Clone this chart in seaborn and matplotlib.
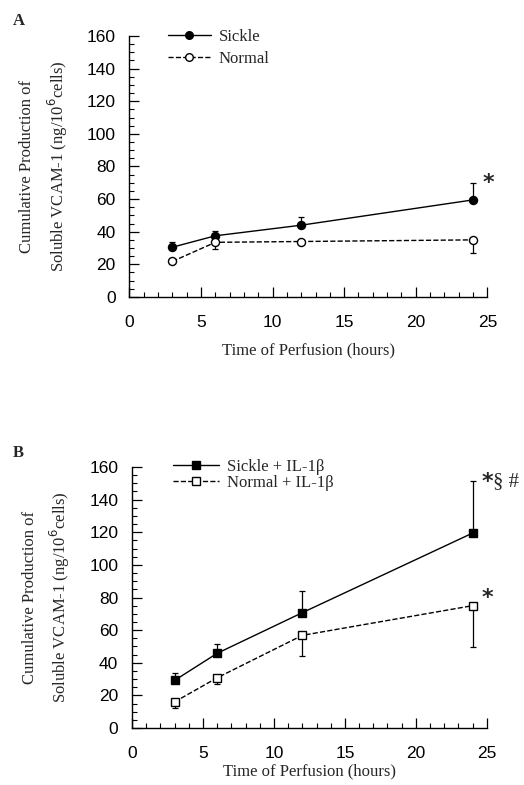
import matplotlib
matplotlib.use("Agg")
import matplotlib.pyplot as plt
import seaborn as sns
import numpy as np
import pandas as pd
from matplotlib.ticker import MultipleLocator
from matplotlib.lines import Line2D

sns.set_theme(style="ticks")
plt.rcParams['font.family'] = ['Liberation Serif', 'DejaVu Serif']

# Data
hours = [3, 6, 12, 24]
sickle = [30.5, 37.5, 44, 59.5]
sickle_err_up = [3.2, 3.2, 5.3, 10.5]
normal = [21.8, 33.5, 34, 35]
normal_err_dn = [0, 4.0, 0, 8]

sickle_il = [29.2, 45.8, 70.7, 119.5]
sickle_il_err_up = [4.8, 5.7, 13.0, 32.0]
normal_il = [16.0, 30.8, 56.8, 75.0]
normal_il_err_dn = [4.0, 4.0, 12.5, 25.2]

xticks = [0, 5, 10, 15, 20, 25]
yticks = [0, 20, 40, 60, 80, 100, 120, 140, 160]

fig = plt.figure(figsize=(5.24, 7.85), dpi=100)
axA = fig.add_axes([0.247, 0.6217, 0.683, 0.3325])
axB = fig.add_axes([0.252, 0.0726, 0.677, 0.3325])

def style_axis(ax, xlabelpad):
    ax.set_xlim(0, 25)
    ax.set_ylim(0, 160)
    ax.set_xticks(xticks)
    ax.set_yticks(yticks)
    ax.xaxis.set_minor_locator(MultipleLocator(1))
    ax.yaxis.set_minor_locator(MultipleLocator(5))
    ax.tick_params(which='major', direction='in', length=7, width=0.9, colors='black',
                   labelsize=12.5)
    ax.tick_params(axis='x', which='major', pad=13)
    ax.tick_params(axis='y', which='major', pad=10)
    ax.tick_params(which='minor', direction='in', length=3.5, width=0.8, colors='black')
    for lab in ax.get_xticklabels() + ax.get_yticklabels():
        lab.set_family(['Liberation Sans', 'DejaVu Sans'])
    sns.despine(ax=ax)
    for s in ['left', 'bottom']:
        ax.spines[s].set_color('black')
        ax.spines[s].set_linewidth(1.0)
    ax.set_xlabel('Time of Perfusion (hours)', fontsize=12, labelpad=xlabelpad)
    ax.set_ylabel('Cumulative Production of\nSoluble VCAM-1 (ng/10$^6$cells)', fontsize=12,
                  labelpad=12, linespacing=1.6)
    ax.set_facecolor('white')

def plot_series(ax, y, err, up, marker, filled, dashed, ms):
    df = pd.DataFrame({'x': hours, 'y': y})
    sns.lineplot(data=df, x='x', y='y', ax=ax, color='black', lw=1.0,
                 linestyle='--' if dashed else '-', marker=marker, markersize=ms,
                 markerfacecolor='black' if filled else 'white', markeredgecolor='black',
                 markeredgewidth=1.0, zorder=3)
    e = np.array(err)
    if up:
        yerr = [np.zeros_like(e), e]
    else:
        yerr = [e, np.zeros_like(e)]
    ax.errorbar(hours, y, yerr=yerr, fmt='none', ecolor='black', elinewidth=0.9,
                capsize=2.3, capthick=0.9, zorder=2)

star_kw = dict(fontsize=16, fontweight='bold', ha='left', va='center',
               family=['DejaVu Sans'], clip_on=False)

# Panel A
plot_series(axA, sickle, sickle_err_up, True, 'o', True, False, 5.8)
plot_series(axA, normal, normal_err_dn, False, 'o', False, True, 5.8)
style_axis(axA, 9)
axA.text(24.65, 70, '*', **star_kw)
hA = [Line2D([], [], color='black', lw=1.0, ls='-', marker='o', ms=5.5, mfc='black', mec='black'),
      Line2D([], [], color='black', lw=1.0, ls='--', marker='o', ms=5.5, mfc='white', mec='black')]
axA.legend(hA, ['Sickle', 'Normal'], loc='upper left', bbox_to_anchor=(0.065, 1.085),
           frameon=False, fontsize=12, handlelength=2.6, handletextpad=0.45, labelspacing=0.35)

# Panel B
plot_series(axB, sickle_il, sickle_il_err_up, True, 's', True, False, 6)
plot_series(axB, normal_il, normal_il_err_dn, False, 's', False, True, 6.3)
style_axis(axB, 2)
axB.text(24.6, 151, '*', **star_kw)
axB.text(25.45, 151, '§ #', fontsize=15, ha='left', va='center', clip_on=False)
axB.text(24.65, 80, '*', **star_kw)
hB = [Line2D([], [], color='black', lw=1.0, ls='-', marker='s', ms=6, mfc='black', mec='black'),
      Line2D([], [], color='black', lw=1.0, ls='--', marker='s', ms=6, mfc='white', mec='black')]
axB.legend(hB, ['Sickle + IL-1β', 'Normal + IL-1β'], loc='upper left', bbox_to_anchor=(0.072, 1.09),
           frameon=False, fontsize=12, handlelength=2.8, handletextpad=0.45, labelspacing=0.0)

fig.text(0.025, 0.968, 'A', fontsize=12, fontweight='bold')
fig.text(0.025, 0.418, 'B', fontsize=12, fontweight='bold')

fig.savefig('out.png', dpi=100, facecolor='white')
